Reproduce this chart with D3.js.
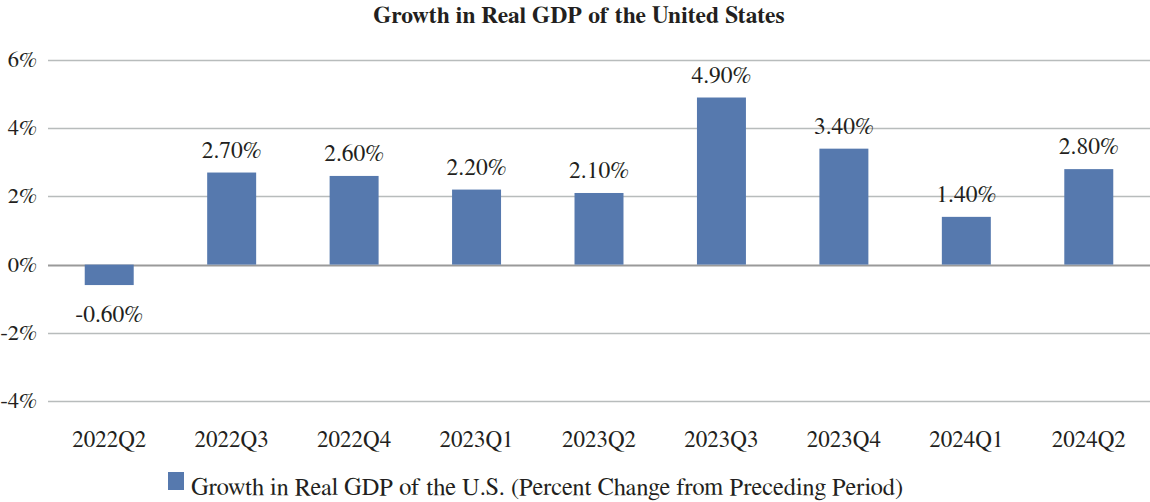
<!DOCTYPE html>
<html>
<head>
<meta charset="utf-8">
<script src="https://cdn.jsdelivr.net/npm/d3@7"></script>
<style>
  body { margin: 0; background: #fff; }
</style>
</head>
<body>
<svg id="chart" width="1150" height="502"></svg>
<script>
// Data
const quarters = ['2022Q2', '2022Q3', '2022Q4', '2023Q1', '2023Q2', '2023Q3', '2023Q4', '2024Q1', '2024Q2'];
const growth = [-0.6, 2.7, 2.6, 2.2, 2.1, 4.9, 3.4, 1.4, 2.8];
const yTicks = [-4, -2, 0, 2, 4, 6];
const title = 'Growth in Real GDP of the United States';
const seriesName = 'Growth in Real GDP of the U.S. (Percent Change from Preceding Period)';

const barColor = '#5679ae';
const textColor = '#231f20';
const font = 'FreeSerif, "Liberation Serif", serif';
const svg = d3.select('#chart');

const margin = {top: 60, right: 0, bottom: 101, left: 48};

const x = d3.scaleBand()
    .domain(quarters)
    .range([margin.left, 1150 - margin.right])
    .paddingInner(0.6)
    .paddingOuter(0.3);

const y = d3.scaleLinear()
    .domain([-4, 6])
    .range([401, 60]);

// Title
svg.append('text')
    .attr('x', 579)
    .attr('y', 23)
    .attr('text-anchor', 'middle')
    .style('font-family', font)
    .style('font-weight', 'bold')
    .style('font-size', '23.5px')
    .attr('fill', textColor)
    .text(title);

// Gridlines
svg.append('g')
    .selectAll('line')
    .data(yTicks)
    .enter().append('line')
    .attr('x1', margin.left)
    .attr('x2', 1150)
    .attr('y1', d => Math.round(y(d)) + 0.5)
    .attr('y2', d => Math.round(y(d)) + 0.5)
    .attr('stroke', d => d === 0 ? '#9a9a9a' : '#b8bcbc')
    .attr('stroke-width', d => d === 0 ? 2 : 1.5);

// Y tick labels
svg.append('g')
    .selectAll('text')
    .data(yTicks)
    .enter().append('text')
    .attr('x', 37)
    .attr('y', d => y(d) + 7)
    .attr('text-anchor', 'end')
    .style('font-family', font)
    .style('font-size', '22.5px')
    .attr('fill', textColor)
    .text(d => d + '%');

// Bars
svg.append('g')
    .selectAll('rect')
    .data(growth)
    .enter().append('rect')
    .attr('x', (d, i) => x(quarters[i]))
    .attr('width', x.bandwidth())
    .attr('y', d => y(Math.max(0, d)))
    .attr('height', d => Math.abs(y(d) - y(0)))
    .attr('fill', barColor);

// Value labels
svg.append('g')
    .selectAll('text')
    .data(growth)
    .enter().append('text')
    .attr('x', (d, i) => x(quarters[i]) + x.bandwidth() / 2)
    .attr('y', d => d >= 0 ? y(d) - 15 : y(d) + 37)
    .attr('text-anchor', 'middle')
    .style('font-family', font)
    .style('font-size', '23.5px')
    .attr('fill', textColor)
    .text(d => d.toFixed(2) + '%');

// X labels
svg.append('g')
    .selectAll('text')
    .data(quarters)
    .enter().append('text')
    .attr('x', d => x(d) + x.bandwidth() / 2)
    .attr('y', 447)
    .attr('text-anchor', 'middle')
    .style('font-family', font)
    .style('font-size', '23px')
    .attr('fill', textColor)
    .text(d => d);

// Legend
const legend = svg.append('g');
legend.append('rect')
    .attr('x', 168)
    .attr('y', 472)
    .attr('width', 16)
    .attr('height', 18)
    .attr('fill', barColor);
legend.append('text')
    .attr('x', 191)
    .attr('y', 495)
    .style('font-family', font)
    .style('font-size', '24.4px')
    .attr('fill', textColor)
    .text(seriesName);
</script>
</body>
</html>
